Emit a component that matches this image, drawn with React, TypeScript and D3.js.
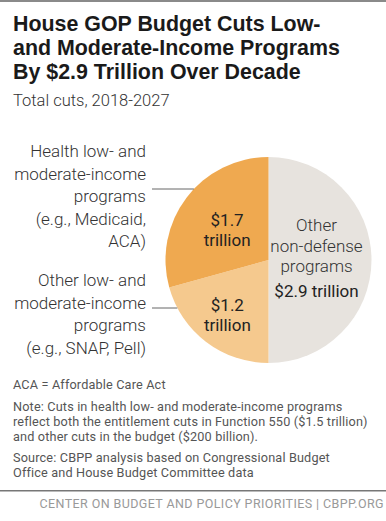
import React from 'react';
import * as d3 from 'd3';

// slice order runs clockwise from 12 o'clock
const categories = ['Other non-defense programs', 'Other low- and moderate-income', 'Health low- and moderate-income'];
const values = [2.9, 1.2, 1.7];
const colors = ['#E7E3DE', '#F5C98E', '#EFA950'];
const valueLabels = ['$2.9 trillion', '$1.2', '$1.7'];

const titleLines = ['House GOP Budget Cuts Low-', 'and Moderate-Income Programs', 'By $2.9 Trillion Over Decade'];
const subtitle = 'Total cuts, 2018-2027';
const healthLabel = ['Health low- and', 'moderate-income', 'programs', '(e.g., Medicaid,', 'ACA)'];
const otherLowLabel = ['Other low- and', 'moderate-income', 'programs', '(e.g., SNAP, Pell)'];
const otherNonDefense = ['Other', 'non-defense', 'programs'];
const notes = [
  ['ACA = Affordable Care Act'],
  ['Note: Cuts in health low- and moderate-income programs', 'reflect both the entitlement cuts in Function 550 ($1.5 trillion)', 'and other cuts in the budget ($200 billion).'],
  ['Source: CBPP analysis based on Congressional Budget', 'Office and House Budget Committee data'],
];
const footer = 'CENTER ON BUDGET AND POLICY PRIORITIES | CBPP.ORG';

const W = 386;
const H = 521;
const font = 'Roboto, "Open Sans", sans-serif';
const titleFont = '"Liberation Sans", Arial, sans-serif';

const App = () => {
  const cx = 268.5;
  const cy = 260;
  const r = 103;

  const pie = d3.pie<number>().sort(null).value(d => d);
  const arcs = pie(values);
  const arc = d3.arc<d3.PieArcDatum<number>>().innerRadius(0).outerRadius(r);

  // label distance from centre per slice
  const labelR = [48, 68, 52];
  const labelPos = arcs.map((a, i) => {
    const mid = (a.startAngle + a.endAngle) / 2;
    return [labelR[i] * Math.sin(mid), -labelR[i] * Math.cos(mid)];
  });

  // leader line end on the left pie edge for a given y
  const edgeX = (y: number) => cx - Math.sqrt(r * r - (y - cy) * (y - cy));
  const leader1Y = 189;
  const leader2Y = 308;
  const labelX = 146;

  let noteY = 389;
  const noteBlocks = notes.map(block => {
    const y = noteY;
    noteY += block.length * 15 + 6.5;
    return { block, y };
  });

  return (
    <svg width={W} height={H} style={{ position: 'absolute', left: 0, top: 0, fontFamily: font }}>
      <rect x={0} y={0} width={W} height={H} fill="#fff" />
      <rect x={0} y={0} width={W} height={2} fill="#8a8a8a" />

      {titleLines.map((t, i) => (
        <text key={t} x={13} y={31 + i * 24} fontFamily={titleFont} fontSize={21.4} fontWeight={700} fill="#1a1a1a">{t}</text>
      ))}
      <text x={13} y={106} fontSize={16.5} fontWeight={300} fill="#333">{subtitle}</text>

      <g transform={`translate(${cx},${cy})`}>
        {arcs.map((a, i) => (
          <path key={categories[i]} d={arc(a) || ''} fill={colors[i]} />
        ))}
      </g>

      <line x1={152} x2={edgeX(leader1Y)} y1={leader1Y} y2={leader1Y} stroke="#666" strokeWidth={1} />
      <line x1={152} x2={edgeX(leader2Y)} y1={leader2Y} y2={leader2Y} stroke="#666" strokeWidth={1} />

      {healthLabel.map((t, i) => (
        <text key={t} x={labelX} y={157 + i * 22.5} textAnchor="end" fontSize={17} fontWeight={300} fill="#333">{t}</text>
      ))}
      {otherLowLabel.map((t, i) => (
        <text key={t} x={labelX} y={286 + i * 22.5} textAnchor="end" fontSize={17} fontWeight={300} fill="#333">{t}</text>
      ))}

      {/* gray slice */}
      <g transform={`translate(${cx + labelPos[0][0]},${cy + labelPos[0][1]})`} textAnchor="middle" fontSize={17}>
        {otherNonDefense.map((t, i) => (
          <text key={t} y={-29 + i * 20.5} fontWeight={300} fill="#333">{t}</text>
        ))}
        <text y={37} fontWeight={400} fill="#222">{valueLabels[0]}</text>
      </g>
      {[1, 2].map(i => (
        <g key={i} transform={`translate(${cx + labelPos[i][0]},${cy + labelPos[i][1]})`} textAnchor="middle" fontSize={17} fill="#222">
          <text y={-3}>{valueLabels[i]}</text>
          <text y={17}>trillion</text>
        </g>
      ))}

      {noteBlocks.map(({ block, y }) =>
        block.map((t, li) => (
          <text key={t} x={13} y={y + li * 15} fontSize={12.7} fill="#555" letterSpacing={0.15}>{t}</text>
        ))
      )}

      <rect x={0} y={490} width={W} height={1.5} fill="#777" />
      <text x={384} y={508} textAnchor="end" fontSize={12.5} fill="#999" letterSpacing={0.4}>{footer}</text>
    </svg>
  );
};

export default App;
